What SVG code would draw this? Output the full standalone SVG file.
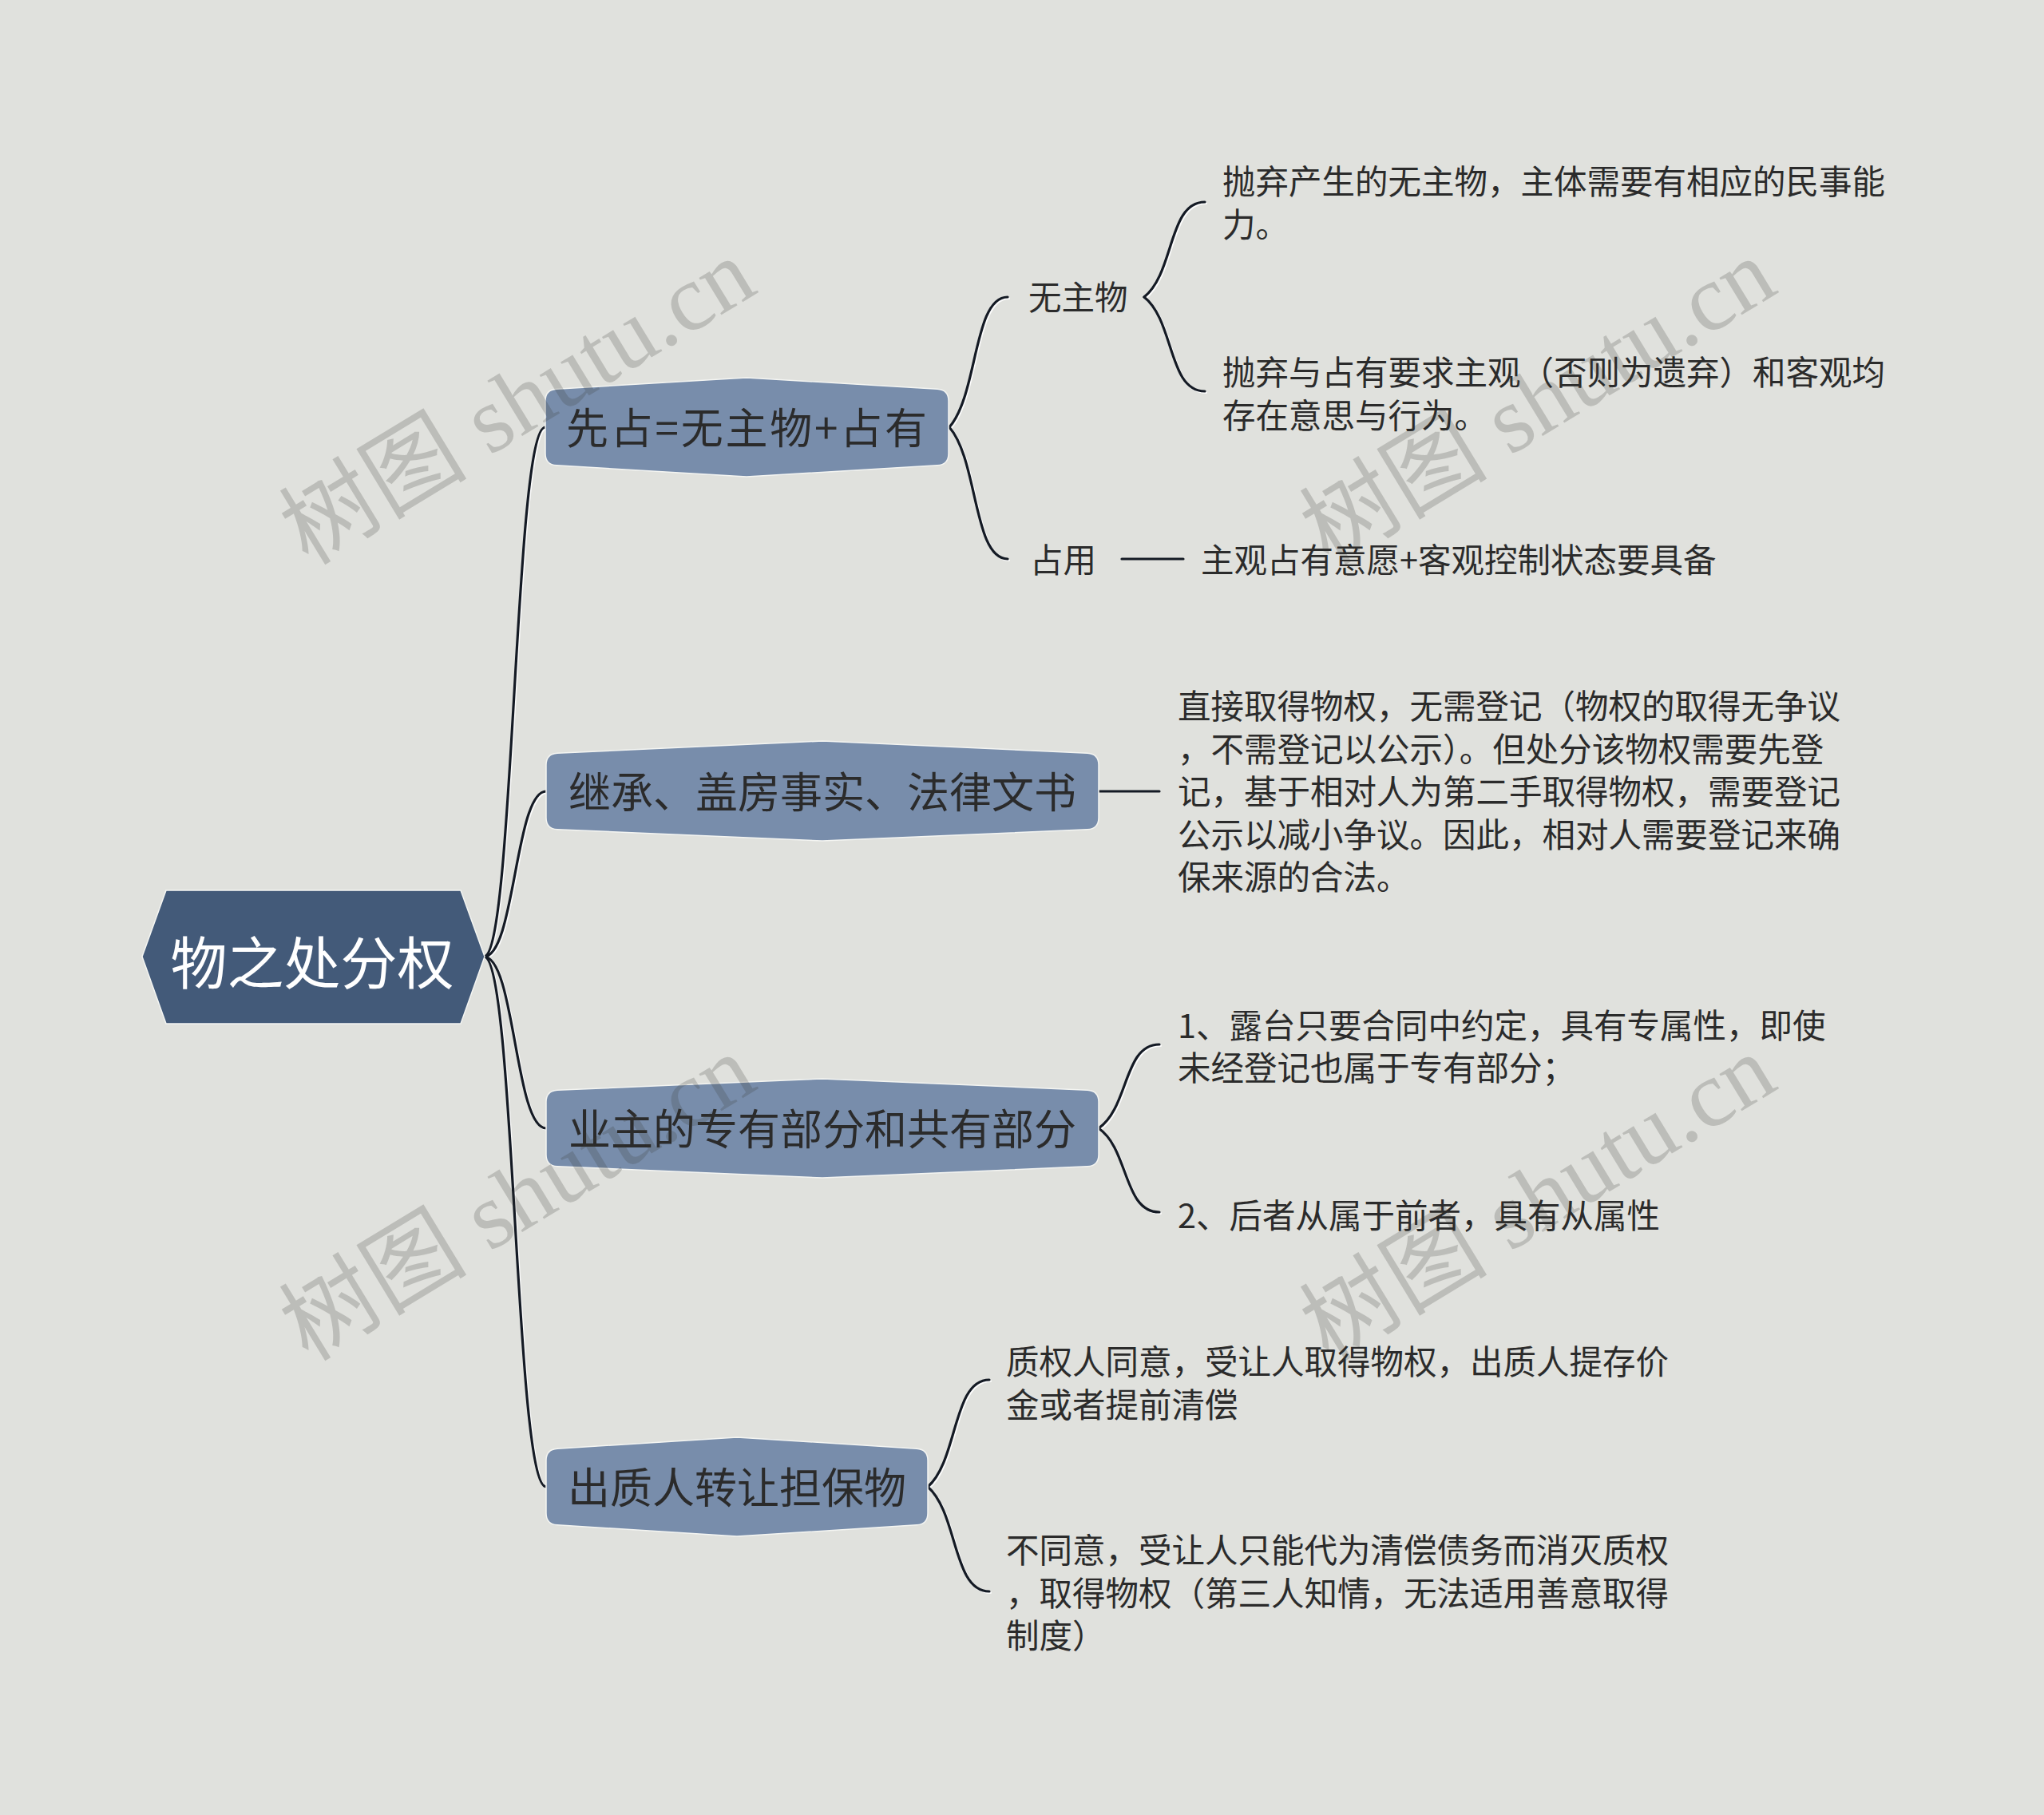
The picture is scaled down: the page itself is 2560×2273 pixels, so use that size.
<svg xmlns="http://www.w3.org/2000/svg" width="2560" height="2273" viewBox="0 0 2560 2273">
<style>
.t{font-family:"Noto Sans CJK SC","Noto Sans",sans-serif;fill:#2b2b2b}
.leaf{font-size:41.5px}
.nt{font-size:53px;text-anchor:middle}
.node{fill:#788dab;stroke:#f4f5f2;stroke-width:1.5}
.root{fill:#435a79;stroke:#f4f5f2;stroke-width:1.5}
.c{fill:none;stroke:#141a24;stroke-width:3.2;stroke-linecap:round}
.ch{fill:none;stroke:#ffffff;stroke-width:3;stroke-linecap:round;opacity:0.9}
.wm{font-family:"Liberation Serif","Noto Sans CJK SC",serif;font-size:118px;fill:#3a3a32;fill-opacity:0.21;text-anchor:middle}
</style>
<rect width="2560" height="2273" fill="#e0e1dd"/>

<g id="connectors">
  <g transform="translate(1.5,1.5)">
    <path class="ch" d="M606 1198 C644 1198 644 535 683 535"/>
    <path class="ch" d="M606 1198 C645 1198 645 991 684 991"/>
    <path class="ch" d="M606 1198 C645 1198 645 1413 684 1413"/>
    <path class="ch" d="M606 1198 C645 1198 645 1862 684 1862"/>
    <path class="ch" d="M1189 535 C1225 494 1219 372 1262 372"/>
    <path class="ch" d="M1189 535 C1225 576 1219 700 1262 700"/>
    <path class="ch" d="M1433 372 C1471 342 1463 253 1509 253"/>
    <path class="ch" d="M1433 372 C1471 402 1463 490 1509 490"/>
    <path class="ch" d="M1376 1413 C1414 1387 1407 1308 1452 1308"/>
    <path class="ch" d="M1376 1413 C1414 1439 1407 1518 1452 1518"/>
    <path class="ch" d="M1162 1862 C1200 1829 1193 1728 1239 1728"/>
    <path class="ch" d="M1162 1862 C1200 1895 1193 1993 1239 1993"/>
  </g>
  <path class="c" d="M606 1198 C644 1198 644 535 683 535"/>
  <path class="c" d="M606 1198 C645 1198 645 991 684 991"/>
  <path class="c" d="M606 1198 C645 1198 645 1413 684 1413"/>
  <path class="c" d="M606 1198 C645 1198 645 1862 684 1862"/>
  <path class="c" d="M1189 535 C1225 494 1219 372 1262 372"/>
  <path class="c" d="M1189 535 C1225 576 1219 700 1262 700"/>
  <path class="c" d="M1405 700 L1482 700"/>
  <path class="c" d="M1433 372 C1471 342 1463 253 1509 253"/>
  <path class="c" d="M1433 372 C1471 402 1463 490 1509 490"/>
  <path class="c" d="M1376 991 L1452 991"/>
  <path class="c" d="M1376 1413 C1414 1387 1407 1308 1452 1308"/>
  <path class="c" d="M1376 1413 C1414 1439 1407 1518 1452 1518"/>
  <path class="c" d="M1162 1862 C1200 1829 1193 1728 1239 1728"/>
  <path class="c" d="M1162 1862 C1200 1895 1193 1993 1239 1993"/>
</g>

<g id="root">
  <path class="root" d="M178 1198 L208 1115 L577 1115 L607 1198 L577 1282 L208 1282 Z"/>
  <text class="t" x="391" y="1232" font-size="71" text-anchor="middle" style="fill:#ffffff">物之处分权</text>
</g>

<g id="n1">
  <path class="node" d="M683 502 Q683 488 697 487.2 L935 473 L1174 487.2 Q1188 488 1188 502 L1188 568 Q1188 582 1174 582.8 L935 597 L697 582.8 Q683 582 683 568 Z"/>
  <text class="t nt" x="935" y="556" textLength="452" lengthAdjust="spacing">先占=无主物+占有</text>
</g>
<g id="n1a">
  <text class="t leaf" x="1288" y="388">无主物</text>
</g>
<g id="n1a1">
  <text class="t leaf" x="1531" y="243">抛弃产生的无主物，主体需要有相应的民事能</text>
  <text class="t leaf" x="1531" y="297">力。</text>
</g>
<g id="n1a2">
  <text class="t leaf" x="1531" y="482">抛弃与占有要求主观（否则为遗弃）和客观均</text>
  <text class="t leaf" x="1531" y="536">存在意思与行为。</text>
</g>
<g id="n1b">
  <text class="t leaf" x="1290" y="717">占用</text>
</g>
<g id="n1b1">
  <text class="t leaf" x="1504" y="717">主观占有意愿+客观控制状态要具备</text>
</g>

<g id="n2">
  <path class="node" d="M684 958 Q684 944 698 943.2 L1030 928 L1362 943.2 Q1376 944 1376 958 L1376 1024 Q1376 1038 1362 1038.8 L1030 1053 L698 1038.8 Q684 1038 684 1024 Z"/>
  <text class="t nt" x="1030" y="1012">继承、盖房事实、法律文书</text>
</g>
<g id="n2a">
  <text class="t leaf" x="1475" y="900">直接取得物权，无需登记（物权的取得无争议</text>
  <text class="t leaf" x="1475" y="953.5">，不需登记以公示）。但处分该物权需要先登</text>
  <text class="t leaf" x="1475" y="1007">记，基于相对人为第二手取得物权，需要登记</text>
  <text class="t leaf" x="1475" y="1060.5">公示以减小争议。因此，相对人需要登记来确</text>
  <text class="t leaf" x="1475" y="1114">保来源的合法。</text>
</g>

<g id="n3">
  <path class="node" d="M684 1380 Q684 1366 698 1365.2 L1030 1351 L1362 1365.2 Q1376 1366 1376 1380 L1376 1446 Q1376 1460 1362 1460.8 L1030 1475 L698 1460.8 Q684 1460 684 1446 Z"/>
  <text class="t nt" x="1030" y="1434">业主的专有部分和共有部分</text>
</g>
<g id="n3a">
  <text class="t leaf" x="1475" y="1300">1、露台只要合同中约定，具有专属性，即使</text>
  <text class="t leaf" x="1475" y="1353">未经登记也属于专有部分；</text>
</g>
<g id="n3b">
  <text class="t leaf" x="1475" y="1538">2、后者从属于前者，具有从属性</text>
</g>

<g id="n4">
  <path class="node" d="M684 1829 Q684 1815 698 1814.2 L923 1800 L1148 1814.2 Q1162 1815 1162 1829 L1162 1895 Q1162 1909 1148 1909.8 L923 1924 L698 1909.8 Q684 1909 684 1895 Z"/>
  <text class="t nt" x="923" y="1883">出质人转让担保物</text>
</g>
<g id="n4a">
  <text class="t leaf" x="1260" y="1721">质权人同意，受让人取得物权，出质人提存价</text>
  <text class="t leaf" x="1260" y="1775">金或者提前清偿</text>
</g>
<g id="n4b">
  <text class="t leaf" x="1260" y="1957">不同意，受让人只能代为清偿债务而消灭质权</text>
  <text class="t leaf" x="1260" y="2011">，取得物权（第三人知情，无法适用善意取得</text>
  <text class="t leaf" x="1260" y="2064">制度）</text>
</g>

<g id="watermarks">
  <text class="wm" transform="rotate(-31.3 648 503)" x="648" y="543">树图 shutu.cn</text>
  <text class="wm" transform="rotate(-31.3 1926 503)" x="1926" y="543">树图 shutu.cn</text>
  <text class="wm" transform="rotate(-31.3 648 1500)" x="648" y="1540">树图 shutu.cn</text>
  <text class="wm" transform="rotate(-31.3 1926 1500)" x="1926" y="1540">树图 shutu.cn</text>
</g>
</svg>
